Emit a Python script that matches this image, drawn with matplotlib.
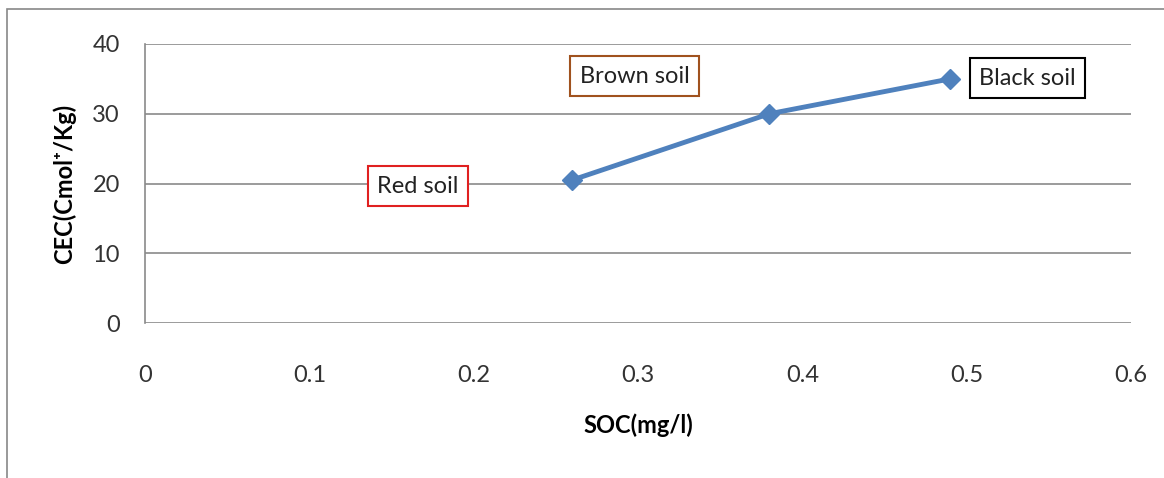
import matplotlib
matplotlib.use('Agg')
import matplotlib.pyplot as plt
from matplotlib.patches import Rectangle

# data
soc = [0.26, 0.38, 0.49]
cec = [20.5, 30.0, 35.0]
soil_names = ['Red soil', 'Brown soil', 'Black soil']
label_pos = [(0.166, 19.6), (0.298, 35.4), (0.537, 35.1)]
label_edge = ['#e02020', '#a0521e', '#000000']
xticks = [0, 0.1, 0.2, 0.3, 0.4, 0.5, 0.6]
yticks = [0, 10, 20, 30, 40]

plt.rcParams['font.family'] = ['Lato', 'DejaVu Sans']

fig = plt.figure(figsize=(11.64, 4.78), dpi=100)
ax = fig.add_axes([145/1164, 1-323/478, (1131-145)/1164, (323-44)/478])

# outer frame of the chart
fig.patches.append(Rectangle((7/1164, -0.05), 1.2, 1-9/478+0.05,
                             transform=fig.transFigure, fill=False,
                             edgecolor='#888888', lw=1.2))

ax.plot(soc, cec, color='#4f81bd', lw=3.5, marker='D', markersize=10,
        markeredgecolor='#4f81bd', zorder=3)

for name, (x, y), ec in zip(soil_names, label_pos, label_edge):
    ax.text(x, y, name, fontsize=17, ha='center', va='center', color='#222222',
            bbox=dict(boxstyle='square,pad=0.4', fc='white', ec=ec, lw=1.5))

ax.set_xlim(0, 0.6)
ax.set_ylim(0, 40)
ax.set_xticks(xticks)
ax.set_yticks(yticks)
ax.set_xticklabels(['0' if t == 0 else '{:.1f}'.format(t) for t in xticks])
ax.tick_params(length=0, labelsize=17, colors='#333333')
ax.tick_params(axis='x', pad=30)
ax.tick_params(axis='y', pad=18)
ax.grid(axis='y', color='#8a8a8a', lw=1.2)
ax.set_axisbelow(True)
for s in ['top', 'right']:
    ax.spines[s].set_visible(False)
ax.spines['bottom'].set_visible(False)
ax.spines['left'].set_color('#8a8a8a')
ax.spines['left'].set_linewidth(1.2)

ax.set_xlabel('SOC(mg/l)', fontsize=17, fontweight='bold', labelpad=20)
ax.set_ylabel('CEC(Cmol\u207a/Kg)', fontsize=17, fontweight='bold', labelpad=12)

fig.savefig('out.png', dpi=100)
